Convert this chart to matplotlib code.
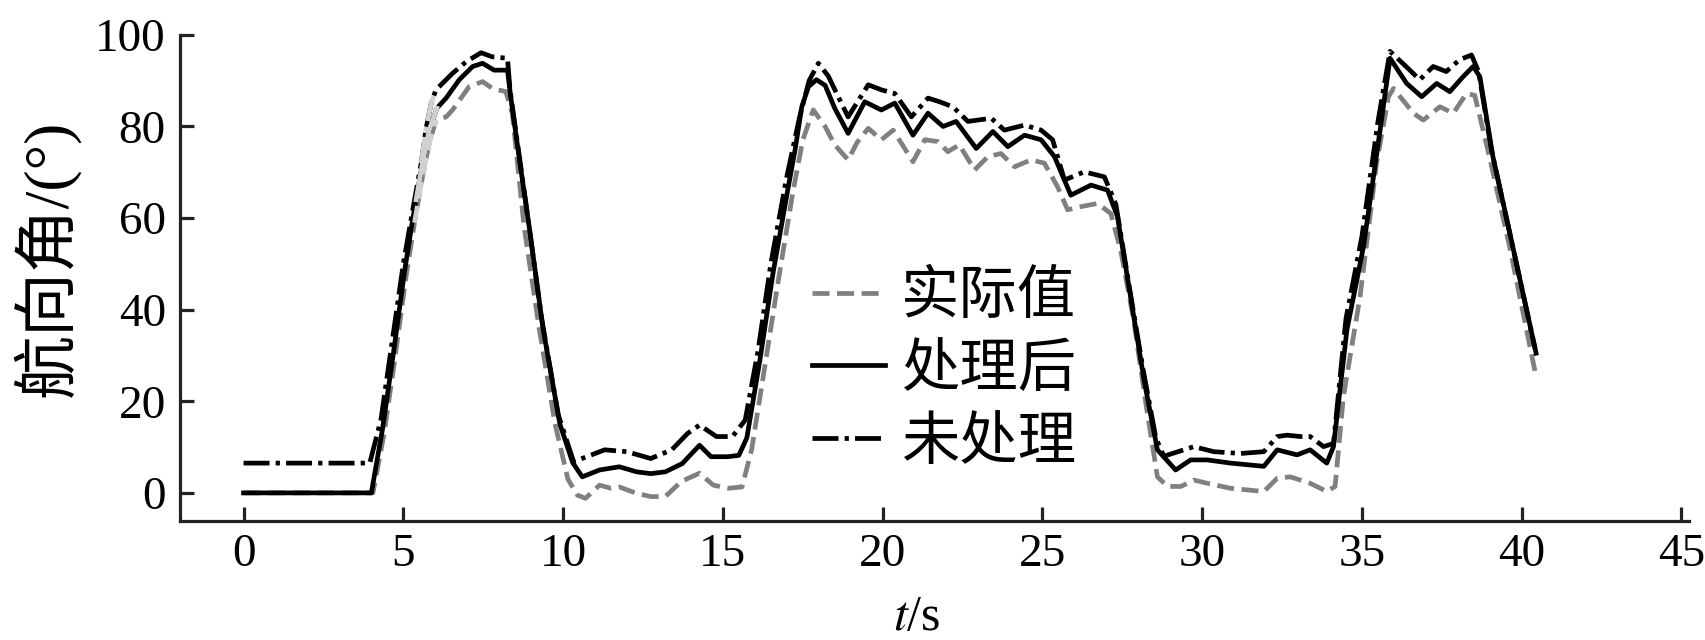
import numpy as np
import matplotlib
matplotlib.use("Agg")
import matplotlib.pyplot as plt

plt.rcParams['font.family'] = ['Liberation Serif', 'Noto Sans CJK SC', 'DejaVu Sans']
plt.rcParams['mathtext.fontset'] = 'stix'

# actual heading (gray dashed)
t_actual = [0, 4.05, 4.4, 4.75, 5.08, 5.35, 5.6, 5.8, 6.02, 6.34, 6.54, 7.06, 7.48, 7.79, 8.21,
            8.41, 8.78, 9.25, 9.75, 10.15, 10.45, 10.7, 11.14, 11.5, 11.76, 12.3, 12.74, 13.2,
            13.7, 14.27, 14.7, 15.16, 15.6, 15.9, 16.3, 16.75, 17.2, 17.5, 17.83, 18.2, 18.5,
            18.92, 19.2, 19.55, 19.96, 20.33, 20.95, 21.32, 21.73, 22.04, 22.4, 22.88, 23.29,
            23.7, 24.13, 24.64, 25.06, 25.47, 25.79, 26.2, 26.73, 27.14, 27.45, 27.85, 28.25,
            28.6, 28.92, 29.33, 29.74, 30.16, 30.89, 31.93, 32.35, 32.76, 33.38, 33.9, 34.16,
            34.42, 34.94, 35.46, 35.83, 35.99, 36.61, 36.92, 37.44, 37.86, 38.27, 38.53, 38.99,
            39.62, 40.45]
y_actual = [0, 0, 13, 30, 47, 59, 69, 76, 81.4, 82.1, 83.6, 88.7, 89.8, 88.3, 87.6,
            82.9, 58.1, 36, 15, 3, -0.5, -1.2, 1.7, 1.0, 1.3, -0.1, -0.8, -0.8,
            2.5, 4.3, 1.7, 1.0, 1.3, 9.4, 27, 47, 66, 77, 83.6, 80, 76,
            72.7, 76.5, 79.6, 77.1, 79.2, 72.3, 77.1, 76.7, 74.5, 76.0, 70.5, 73.4,
            74.1, 71.2, 72.7, 72.0, 66.9, 61.8, 62.5, 63.2, 61.0, 53, 38, 19,
            3.5, 1.4, 1.4, 2.8, 2.1, 1.0, 0.3, 3.2, 3.5, 2.1, 0.3, 1.4,
            21, 42.8, 72, 86.5, 88.3, 82.9, 81.4, 84.3, 82.9, 87.2, 86.8, 73.4,
            53.8, 25.4]

# processed (black solid)
t_proc = [0, 4.0, 4.35, 4.7, 5.03, 5.3, 5.4, 5.6, 5.8, 6.05, 6.34, 6.75, 7.17, 7.48, 7.84, 8.26,
          8.36, 8.65, 8.94, 9.37, 9.9, 10.3, 10.6, 11.14, 11.76, 12.3, 12.74, 13.2, 13.73, 14.27,
          14.63, 15.16, 15.5, 15.75, 16.16, 16.57, 17.05, 17.26, 17.47, 17.68, 17.93, 18.2, 18.5,
          18.92, 19.44, 19.96, 20.38, 20.95, 21.42, 21.89, 22.3, 22.93, 23.45, 23.92, 24.44,
          24.96, 25.38, 25.89, 26.52, 27.04, 27.35, 27.76, 28.18, 28.6, 29.17, 29.64, 30.16,
          30.89, 31.93, 32.35, 32.97, 33.38, 33.9, 34.11, 34.53, 35.05, 35.57, 35.88, 36.4,
          36.87, 37.34, 37.75, 38.17, 38.48, 38.69, 39.1, 39.72, 40.45]
y_proc = [0, 0, 14, 31, 48, 60, 64, 72, 79, 84, 86.2, 90.2, 93.1, 93.8, 92.3, 92.3,
          86.5, 72, 58.1, 36, 15, 6.6, 3.5, 5.0, 5.7, 4.6, 4.2, 4.6, 6.4, 10.4,
          7.9, 7.9, 8.2, 12, 29, 48, 66.9, 74.9, 84.3, 88.7, 90.2, 89, 84,
          78.5, 85.4, 83.6, 85.1, 78.1, 82.9, 80.0, 81.1, 75.2, 78.9, 75.6, 78.1,
          77.1, 73.4, 65.0, 67.2, 66.1, 60.3, 42.8, 24.7, 9.4, 5.0, 7.2, 7.2,
          6.5, 5.8, 9.4, 8.3, 9.4, 6.5, 10.1, 35.6, 53.8, 79.3, 94.9, 89.4,
          86.5, 89.4, 87.6, 90.9, 93.1, 90.9, 73.4, 53.8, 30.5]

# unprocessed (black dash-dot)
t_raw = [0, 3.95, 4.3, 4.65, 5.0, 5.3, 5.56, 5.71, 5.87, 6.02, 6.54, 6.96, 7.43, 7.79, 8.26,
         8.34, 8.9, 9.33, 9.85, 10.33, 11.3, 12.0, 12.74, 13.4, 13.9, 14.27, 14.8, 15.3, 15.7,
         16.1, 16.5, 17.0, 17.4, 17.7, 17.99, 18.3, 18.61, 18.92, 19.55, 19.96, 20.38, 20.9,
         21.42, 21.78, 22.2, 22.67, 23.4, 23.81, 24.44, 24.96, 25.32, 25.69, 26.31, 26.94,
         27.3, 27.72, 28.15, 28.55, 28.8, 29.74, 30.36, 31.2, 31.93, 32.35, 32.66, 33.07,
         33.38, 33.8, 34.11, 34.5, 35.0, 35.5, 35.88, 36.5, 36.81, 37.23, 37.64, 38.06, 38.43,
         38.65, 39.05, 39.68, 40.42]
y_raw = [6.5, 6.5, 16, 33, 50, 62, 72, 79.5, 85, 88, 91.6, 94.1, 96.1, 95.2, 94.9,
         88, 60, 38, 17, 6.8, 9.4, 9.0, 7.5, 9.4, 13.0, 14.8, 12.3, 12.3, 15.9,
         31, 50, 69, 82, 90, 93.8, 91, 86.5, 82.1, 89.1, 88.0, 87.2, 82.1,
         86.2, 85.4, 84.3, 81.1, 81.8, 79.2, 80.3, 79.2, 77.1, 68.3, 70.1, 69.0,
         63, 45, 27, 12, 8.0, 10.1, 9.0, 8.6, 9.0, 12.3, 12.6, 12.3,
         12.3, 10.1, 10.8, 38, 56, 81, 96.4, 92.3, 90.2, 93.1, 92.0, 94.6, 95.6,
         92, 75, 55, 31.5]

labels = ['实际值', '处理后', '未处理']
x_ticks = list(range(0, 46, 5))
y_ticks = list(range(0, 101, 20))

fig = plt.figure(figsize=(17.06, 6.4), dpi=100)
ax = fig.add_axes([0.1053, 0.1855, 0.885, 0.76])

lw = 3.4
dash = (3.6, 1.6)
dashdot = (5.5, 1.3, 0.9, 1.3)
ax.plot(t_actual, y_actual, color='#808080', lw=lw, dashes=dash, label=labels[0])
ax.plot(t_proc, y_proc, color='black', lw=lw, label=labels[1])
ax.plot(t_raw, y_raw, color='black', lw=lw, dashes=dashdot, label=labels[2])

# the faded stretch on the first rise
for t, y, ls in [(t_actual, y_actual, dash), (t_proc, y_proc, None), (t_raw, y_raw, dashdot)]:
    t = np.array(t)
    y = np.array(y)
    m = (t >= 5.35) & (t <= 6.3)
    kw = {'dashes': ls} if ls else {}
    ax.plot(t[m], y[m], color='#d0d0d0', lw=lw, **kw)

ax.set_xlim(-2, 45.25)
ax.set_ylim(-6.2, 100)
ax.set_xticks(x_ticks)
ax.set_yticks(y_ticks)

for s in ['top', 'right']:
    ax.spines[s].set_visible(False)
for s in ['left', 'bottom']:
    ax.spines[s].set_linewidth(2.3)
    ax.spines[s].set_color('#222222')

ax.tick_params(direction='in', length=10, width=2.3, color='#222222', labelsize=34)
ax.tick_params(axis='y', pad=10)
ax.tick_params(axis='x', pad=9)

ax.set_xlabel('$t$/s', fontsize=36)
ax.xaxis.set_label_coords(0.488, -0.15)
ax.set_ylabel('航向角/(°)', fontsize=46)
ax.yaxis.set_label_coords(-0.066, 0.54)

leg = ax.legend(loc='upper left', bbox_to_anchor=(0.476, 0.584), bbox_transform=fig.transFigure,
                frameon=False, handlelength=1.25, handletextpad=0.28,
                labelspacing=0.2, borderpad=0, borderaxespad=0,
                prop={'family': ['Noto Sans CJK SC'], 'size': 42})

fig.savefig('out.png', dpi=100)
